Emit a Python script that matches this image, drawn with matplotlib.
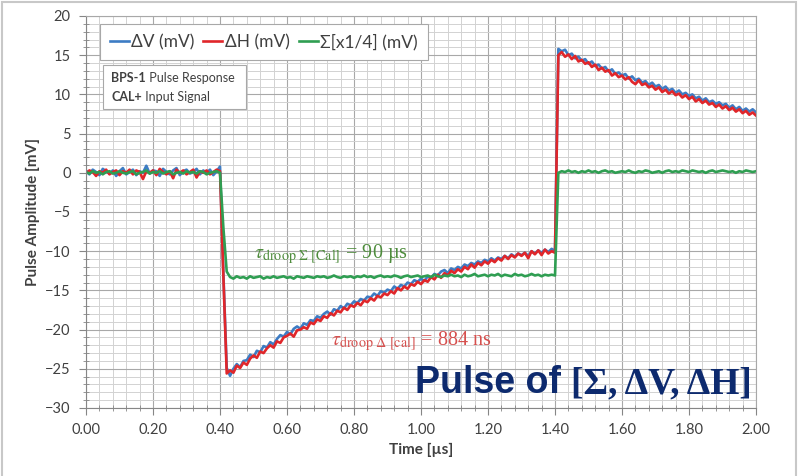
import numpy as np
import matplotlib
matplotlib.use('Agg')
import matplotlib.pyplot as plt
from matplotlib.ticker import MultipleLocator, FormatStrFormatter
from matplotlib.patches import Rectangle

plt.rcParams['font.family'] = ['Lato', 'DejaVu Sans']
plt.rcParams['mathtext.fontset'] = 'stix'

# time base, 10 ns steps
t = np.round(np.arange(201) * 0.01, 2)

# delta V channel [mV]
dV = [0.3, -0.2, 0.4, 0.1, -0.3, 0.5, 0.2, -0.1, 0.3, -0.4,
      0.2, 0.6, -0.2, 0.1, 0.4, -0.3, 0.2, 0.0, 0.9, -0.1,
      0.3, 0.2, -0.4, 0.5, 0.1, -0.2, 0.3, 0.6, -0.3, 0.2,
      0.4, -0.1, 0.1, 0.5, -0.2, 0.3, 0.0, 0.4, -0.3, 0.2,
      0.8, -12.8, -24.9, -25.9, -25.0, -24.4, -24.8, -24.0, -23.9, -23.2,
      -23.5, -22.7, -22.9, -22.1, -22.3, -21.6, -21.9, -21.2, -20.7, -20.9,
      -20.3, -20.6, -19.9, -19.6, -19.9, -19.2, -19.4, -18.8, -18.9, -18.3,
      -18.5, -18.0, -17.7, -18.1, -17.4, -17.6, -17.0, -17.3, -16.7, -16.9,
      -16.4, -16.6, -16.1, -16.3, -15.8, -15.9, -15.4, -15.7, -15.1, -15.3,
      -14.9, -15.1, -14.5, -14.8, -14.3, -14.5, -14.0, -14.2, -13.7, -13.9,
      -13.5, -13.8, -13.2, -13.4, -12.9, -13.1, -12.6, -12.4, -12.8, -12.2,
      -12.4, -12.0, -12.2, -11.7, -11.9, -11.5, -11.7, -11.3, -11.5, -11.1,
      -11.3, -10.9, -11.2, -10.8, -11.0, -10.6, -10.9, -10.4, -10.7, -10.3,
      -10.5, -10.2, -10.6, -10.0, -10.3, -9.9, -10.2, -9.8, -10.1, -9.7,
      -10.0, 15.8, 15.5, 15.7, 15.0, 15.2, 14.6, 14.8, 14.3, 14.5,
      13.9, 14.2, 13.6, 13.8, 13.3, 13.5, 12.9, 13.2, 12.6, 12.8,
      12.4, 12.6, 12.0, 12.3, 11.8, 12.0, 11.5, 11.7, 11.2, 11.5,
      11.0, 11.2, 10.7, 11.0, 10.5, 10.7, 10.2, 10.5, 10.0, 10.2,
      9.8, 10.0, 9.5, 9.7, 9.2, 9.5, 9.0, 9.2, 8.8, 9.0,
      8.6, 8.8, 8.3, 8.6, 8.1, 8.4, 7.9, 8.2, 7.8, 8.1,
      7.7]

# delta H channel [mV]
dH = [-0.1, 0.3, 0.1, -0.4, 0.2, 0.0, 0.4, -0.2, 0.1, 0.3,
      -0.3, 0.2, 0.0, 0.4, -0.2, 0.3, 0.1, -0.8, 0.2, 0.0,
      0.3, -0.3, 0.5, 0.1, -0.2, 0.2, -0.7, 0.4, 0.0, 0.3,
      -0.2, 0.1, 0.4, -0.6, 0.2, 0.0, 0.3, -0.2, 0.1, 0.4,
      0.2, -13.2, -25.6, -25.2, -25.5, -24.6, -24.9, -24.2, -24.5, -23.7,
      -23.3, -23.6, -22.8, -23.0, -22.4, -22.0, -22.3, -21.5, -21.7, -21.0,
      -20.8, -20.5, -20.9, -20.1, -20.0, -19.7, -19.9, -19.1, -19.3, -18.7,
      -18.9, -18.3, -18.5, -17.9, -18.2, -17.6, -17.8, -17.2, -17.5, -16.9,
      -17.1, -16.6, -16.9, -16.3, -16.5, -16.0, -16.3, -15.7, -15.9, -15.4,
      -15.6, -15.1, -15.4, -14.7, -15.0, -14.5, -14.8, -14.2, -14.4, -13.9,
      -14.2, -13.7, -13.9, -13.3, -13.6, -13.0, -13.4, -12.8, -13.1, -12.5,
      -12.8, -12.3, -12.6, -12.0, -12.3, -11.7, -12.1, -11.5, -11.8, -11.3,
      -11.6, -11.1, -11.4, -10.9, -11.2, -10.6, -11.0, -10.5, -10.8, -10.3,
      -10.6, -10.2, -10.9, -10.0, -10.4, -9.9, -10.5, -9.8, -10.3, -10.0,
      -10.2, 15.0, 15.4, 14.8, 15.1, 14.5, 14.9, 14.2, 14.4, 13.9,
      14.1, 13.5, 13.8, 13.1, 13.4, 12.9, 13.1, 12.4, 12.7, 12.2,
      12.4, 11.9, 12.2, 11.6, 11.3, 11.8, 11.2, 11.4, 10.9, 11.1,
      10.6, 10.9, 10.3, 10.6, 10.1, 10.4, 9.9, 10.1, 9.6, 9.9,
      9.4, 9.7, 9.1, 9.4, 8.9, 9.2, 8.7, 8.9, 8.4, 8.7,
      8.2, 8.5, 8.0, 8.3, 7.8, 8.1, 7.6, 7.9, 7.4, 7.7,
      7.3]

# sum channel, scaled x1/4 [mV]
sig = [0.1, -0.1, 0.2, 0.0, 0.1, -0.2, 0.1, 0.2, -0.1, 0.0,
       0.2, 0.0, -0.1, 0.1, 0.2, -0.2, 0.0, 0.1, 0.3, -0.1,
       0.1, 0.0, 0.2, -0.1, 0.1, 0.2, -0.2, 0.0, 0.1, -0.1,
       0.2, 0.0, 0.1, -0.1, 0.2, 0.1, -0.2, 0.0, 0.1, 0.2,
       0.0, -7.0, -12.6, -13.3, -13.5, -13.2, -13.4, -13.3, -13.5, -13.2,
       -13.4, -13.3, -13.2, -13.5, -13.3, -13.4, -13.2, -13.4, -13.3, -13.2,
       -13.4, -13.3, -13.5, -13.2, -13.3, -13.4, -13.2, -13.3, -13.4, -13.2,
       -13.3, -13.2, -13.4, -13.3, -13.1, -13.3, -13.4, -13.2, -13.3, -13.2,
       -13.4, -13.2, -13.3, -13.1, -13.3, -13.2, -13.4, -13.2, -13.1, -13.3,
       -13.2, -13.3, -13.1, -13.2, -13.4, -13.2, -13.1, -13.3, -13.2, -13.1,
       -13.3, -13.2, -13.1, -13.3, -13.0, -13.2, -13.3, -13.1, -13.2, -13.0,
       -13.2, -13.1, -13.3, -13.0, -13.2, -13.1, -12.9, -13.2, -13.1, -13.0,
       -13.2, -13.0, -13.1, -12.9, -13.2, -13.0, -13.1, -13.2, -12.9, -13.1,
       -13.0, -13.2, -13.1, -12.9, -13.1, -13.0, -13.2, -13.0, -13.1, -13.0,
       -13.1, 0.0, 0.2, 0.1, 0.3, 0.1, 0.2, 0.0, 0.2, 0.1,
       0.3, 0.1, 0.2, 0.0, 0.2, 0.3, 0.1, 0.2, 0.0, 0.1,
       0.2, 0.1, 0.3, 0.1, 0.0, 0.2, 0.1, 0.3, 0.2, 0.0,
       0.1, 0.2, 0.0, 0.2, 0.3, 0.1, 0.2, 0.1, 0.3, 0.2,
       0.1, 0.3, 0.2, 0.1, 0.2, 0.0, 0.2, 0.3, 0.1, 0.2,
       0.3, 0.2, 0.1, 0.2, 0.0, 0.2, 0.1, 0.3, 0.2, 0.1,
       0.2]

series_labels = ['ΔV (mV)', 'ΔH (mV)', 'Σ[x1/4] (mV)']
series_colors = ['#3d7cc4', '#e0262a', '#2f9e52']

fig = plt.figure(figsize=(8.07, 4.76), dpi=100)
ax = fig.add_axes([0.1066, 0.1429, 0.8302, 0.8235])

# chart area frame
fig.patches.append(Rectangle((2 / 807, -0.01), 794 / 807, 1.0058,
                             transform=fig.transFigure, fill=False,
                             edgecolor='#c8c8c8', lw=1.5))

for y, lab, col in zip([dV, dH, sig], series_labels, series_colors):
    ax.plot(t, y, color=col, lw=1.9, label=lab)

ax.set_xlim(0, 2.0)
ax.set_ylim(-30, 20)
ax.xaxis.set_major_locator(MultipleLocator(0.2))
ax.xaxis.set_minor_locator(MultipleLocator(0.04))
ax.yaxis.set_major_locator(MultipleLocator(5))
ax.yaxis.set_minor_locator(MultipleLocator(1))
ax.xaxis.set_major_formatter(FormatStrFormatter('%.2f'))

ax.grid(which='major', color='#a8a8a8', lw=0.8)
ax.grid(which='minor', color='#d2d2d2', lw=0.7)
ax.set_axisbelow(True)

ax.tick_params(which='major', direction='out', length=5, color='#868686',
               labelsize=10.5, labelcolor='#404040', pad=6)
ax.tick_params(which='minor', direction='inout', length=4, color='#868686')
for s in ['left', 'bottom']:
    ax.spines[s].set_color('#868686')
for s in ['top', 'right']:
    ax.spines[s].set_color('#a8a8a8')
    ax.spines[s].set_linewidth(0.8)

ax.set_xlabel('Time [µs]', fontsize=11, fontweight='bold', color='#404040')
ax.set_ylabel('Pulse Amplitude [mV]', fontsize=11, fontweight='bold', color='#404040')

leg = ax.legend(loc='upper left', bbox_to_anchor=(0.021, 0.98), ncol=3,
                fontsize=12.5, handlelength=1.1, handletextpad=0.15,
                columnspacing=0.5, borderpad=0.55, borderaxespad=0,
                fancybox=False, framealpha=1, edgecolor='#a8a8a8')
leg.get_frame().set_linewidth(0.8)
for txt in leg.get_texts():
    txt.set_color('#404040')

# signal description box
ax.add_patch(Rectangle((0.025, 0.763), 0.214, 0.112, transform=ax.transAxes,
                       facecolor='white', edgecolor='#a8a8a8', lw=0.8, zorder=4))
b1 = ax.text(0.038, 0.832, 'BPS-1', transform=ax.transAxes, fontsize=9,
             fontweight='bold', color='#404040', zorder=5)
ax.annotate(' Pulse Response', xy=(1, 0), xycoords=b1, fontsize=9,
            color='#404040', va='bottom', zorder=5)
b2 = ax.text(0.038, 0.783, 'CAL+', transform=ax.transAxes, fontsize=9,
             fontweight='bold', color='#404040', zorder=5)
ax.annotate(' Input Signal', xy=(1, 0), xycoords=b2, fontsize=9,
            color='#404040', va='bottom', zorder=5)

# droop time constants
ax.text(0.50, -10.9, r'$\tau_{\rm droop\ \Sigma\ [Cal]}$ = 90 µs',
        family='Liberation Serif', fontsize=14.5, color='#4e8c3c')
ax.text(0.73, -22.0, r'$\tau_{\rm droop\ \Delta\ [cal]}$ = 884 ns',
        family='Liberation Serif', fontsize=14.5, color='#d6504e')

p1 = ax.text(0.982, -28.1, 'Pulse of ', family='Liberation Sans',
             fontsize=27, fontweight='bold', color='#0d2a6e')
ax.annotate('[Σ, ΔV, ΔH]', xy=(1, 0), xycoords=p1, family='Liberation Serif',
            fontsize=27, fontweight='bold', color='#0d2a6e', va='bottom')

fig.savefig('out.png', dpi=100)
